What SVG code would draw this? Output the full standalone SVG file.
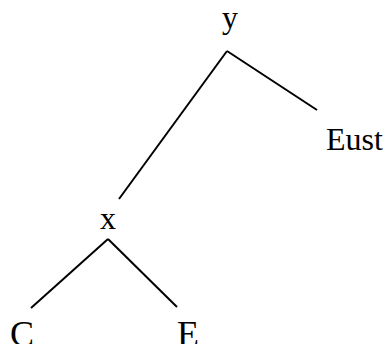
<svg xmlns="http://www.w3.org/2000/svg" width="387" height="344" viewBox="0 0 387 344">
<style>
text{font-family:"Liberation Serif","Times New Roman",serif;font-size:32px;fill:#000}
.b{font-size:36px}
.e{stroke:#000;stroke-width:2;fill:none}
</style>
<rect width="387" height="344" fill="#fff"/>
<g id="edges">
<line class="e" x1="227" y1="51" x2="317" y2="110"/>
<line class="e" x1="227" y1="51" x2="119" y2="199"/>
<line class="e" x1="108" y1="239" x2="31" y2="308"/>
<line class="e" x1="108" y1="239" x2="177" y2="307"/>
</g>
<g id="n-y"><text x="230" y="28" text-anchor="middle">y</text></g>
<g id="n-eust"><text x="326" y="150">Eust</text></g>
<g id="n-x"><text x="108" y="229" text-anchor="middle">x</text></g>
<g id="n-c"><text class="b" x="10" y="346">C</text></g>
<g id="n-e"><text class="b" x="177" y="346">E</text></g>
</svg>
